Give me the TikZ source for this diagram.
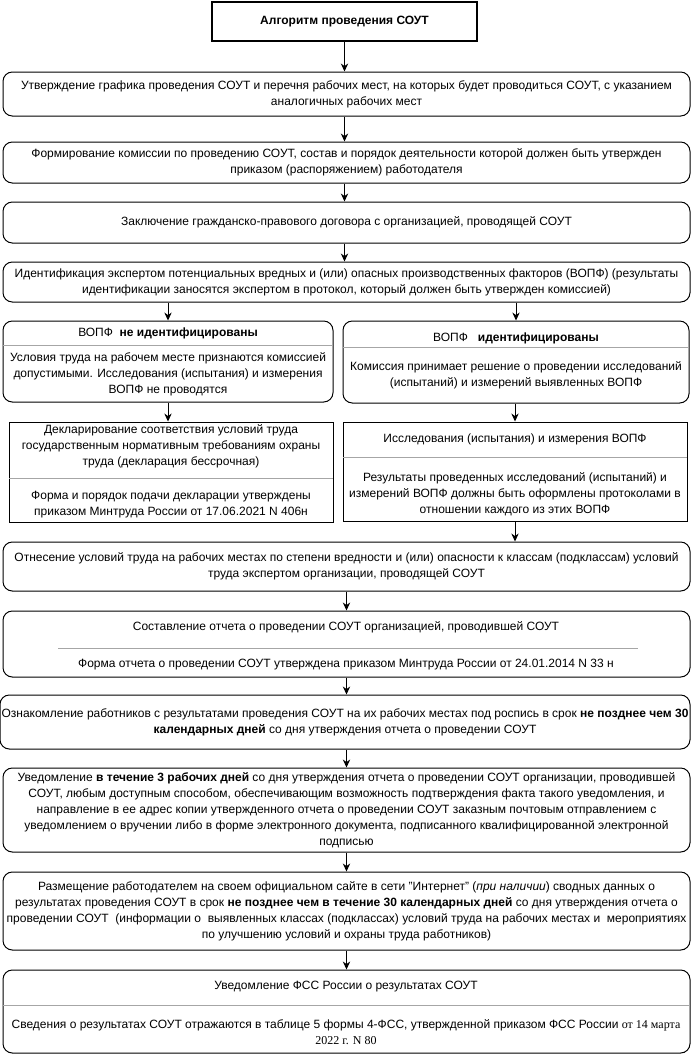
\documentclass[tikz,border=0pt]{standalone}
\usepackage{fontspec}
\setmainfont{Liberation Sans}
\newfontfamily\tnr{Liberation Serif}
\usetikzlibrary{fit,arrows.meta}
\begin{document}
\begin{tikzpicture}[x=0.75pt,y=-0.75pt,
  every node/.style={font=\fontsize{9}{12}\selectfont},
  rbox/.style={draw=black,line width=0.75pt,rounded corners=7pt,inner sep=0pt},
  sbox/.style={draw=black,line width=0.75pt,inner sep=0pt},
  tbox/.style={draw=black,line width=1.6pt,inner sep=0pt},
  txt/.style={align=center,inner sep=0pt},
  sepline/.style={draw=black!35,line width=0.75pt},
  arr/.style={draw=black,line width=0.75pt,-{Stealth[length=6pt,width=5.5pt]}}
]
\useasboundingbox (0,0) rectangle (693,1058);
% title
\node[tbox,fit={(212,2) (477,41)}] (title) {};
\node[txt,font=\fontsize{9}{12}\selectfont\bfseries] (titlet) at (title.center) {Алгоритм проведения СОУТ};
% box1
\node[rbox,fit={(3,72) (690,116)}] (b1) {};
\node[txt] (b1t) at (b1.center) {Утверждение графика проведения СОУТ и перечня рабочих мест, на которых будет проводиться СОУТ, с указанием\\аналогичных рабочих мест};
% box2
\node[rbox,fit={(3,142) (690,183)}] (b2) {};
\node[txt] (b2t) at (b2.center) {Формирование комиссии по проведению СОУТ, состав и порядок деятельности которой должен быть утвержден\\приказом (распоряжением) работодателя};
% box3
\node[rbox,fit={(3,202) (690,243)}] (b3) {};
\node[txt] (b3t) at (b3.center) {Заключение гражданско-правового договора с организацией, проводящей СОУТ};
% box4
\node[rbox,fit={(3,262) (690,302)}] (b4) {};
\node[txt] (b4t) at (b4.center) {Идентификация экспертом потенциальных вредных и (или) опасных производственных факторов (ВОПФ) (результаты\\идентификации заносятся экспертом в протокол, который должен быть утвержден комиссией)};
% box A
\node[rbox,fit={(3,321) (333,402)}] (bA) {};
\draw[sepline] (3,345) -- (333,345);
\node[txt] (bAh) at (168,333) {ВОПФ\ \ \textbf{не идентифицированы}};
\node[txt] (bAb) at (168,374) {Условия труда на рабочем месте признаются комиссией\\допустимыми. Исследования (испытания) и измерения\\ВОПФ не проводятся};
% box B
\node[rbox,fit={(343,321) (689,403)}] (bB) {};
\draw[sepline] (343,347) -- (689,347);
\node[txt] (bBh) at (516,338) {ВОПФ\ \ \ \textbf{идентифицированы}};
\node[txt] (bBb) at (516,375) {Комиссия принимает решение о проведении исследований\\(испытаний) и измерений выявленных ВОПФ};
% box C
\node[sbox,fit={(9,422) (333,522)}] (bC) {};
\draw[sepline] (9,478) -- (333,478);
\node[txt] (bCh) at (171,446) {Декларирование соответствия условий труда\\государственным нормативным требованиям охраны\\труда (декларация бессрочная)};
\node[txt] (bCb) at (171,505) {Форма и порядок подачи декларации утверждены\\приказом Минтруда России от 17.06.2021 N 406н};
% box D
\node[sbox,fit={(343,422) (687,521)}] (bD) {};
\draw[sepline] (343,457) -- (687,457);
\node[txt] (bDh) at (515,439) {Исследования (испытания) и измерения ВОПФ};
\node[txt] (bDb) at (515,494) {Результаты проведенных исследований (испытаний) и\\измерений ВОПФ должны быть оформлены протоколами в\\отношении каждого из этих ВОПФ};
% box5
\node[rbox,fit={(3,542) (690,591)}] (b5) {};
\node[txt] (b5t) at (b5.center) {Отнесение условий труда на рабочих местах по степени вредности и (или) опасности к классам (подклассам) условий\\труда экспертом организации, проводящей СОУТ};
% box6
\node[rbox,fit={(3,611) (690,677)}] (b6) {};
\draw[sepline] (58,648) -- (638,648);
\node[txt] (b6h) at (346,627) {Составление отчета о проведении СОУТ организацией, проводившей СОУТ};
\node[txt] (b6b) at (346,665) {Форма отчета о проведении СОУТ утверждена приказом Минтруда России от 24.01.2014 N 33 н};
% box7
\node[rbox,fit={(0,695) (690,749)}] (b7) {};
\node[txt] (b7t) at (b7.center) {Ознакомление работников с результатами проведения СОУТ на их рабочих местах под роспись в срок \textbf{не позднее чем 30}\\\textbf{календарных дней} со дня утверждения отчета о проведении СОУТ};
% box8
\node[rbox,fit={(3,768) (690,852)}] (b8) {};
\node[txt] (b8t) at (b8.center) {Уведомление \textbf{в течение 3 рабочих дней} со дня утверждения отчета о проведении СОУТ организации, проводившей\\СОУТ, любым доступным способом, обеспечивающим возможность подтверждения факта такого уведомления, и\\направление в ее адрес копии утвержденного отчета о проведении СОУТ заказным почтовым отправлением с\\уведомлением о вручении либо в форме электронного документа, подписанного квалифицированной электронной\\подписью};
% box9
\node[rbox,fit={(3,872) (690,950)}] (b9) {};
\node[txt] (b9t) at (b9.center) {Размещение работодателем на своем официальном сайте в сети "Интернет" (\textit{при наличии}) сводных данных о\\результатах проведения СОУТ в срок \textbf{не позднее чем в течение 30 календарных дней} со дня утверждения отчета о\\проведении СОУТ\ \ (информации о\ \ выявленных классах (подклассах) условий труда на рабочих местах и\ \ мероприятиях\\по улучшению условий и охраны труда работников)};
% box10
\node[rbox,fit={(3,970) (690,1053)}] (b10) {};
\draw[sepline] (3,1005) -- (690,1005);
\node[txt] (b10h) at (346,987) {Уведомление ФСС России о результатах СОУТ};
\node[txt] (b10b) at (346,1032) {Сведения о результатах СОУТ отражаются в таблице 5 формы 4-ФСС, утвержденной приказом ФСС России {\tnr от 14 марта}\\{\tnr 2022 г. N 80}};
% arrows
\draw[arr] (title.south) -- (title.south |- b1.north);
\draw[arr] (b1.south -| title.south) -- (b2.north -| title.south);
\draw[arr] (b2.south -| title.south) -- (b3.north -| title.south);
\draw[arr] (b3.south -| title.south) -- (b4.north -| title.south);
\draw[arr] (bAh |- b4.south) -- (bAh |- bA.north);
\draw[arr] (bBh |- b4.south) -- (bBh |- bB.north);
\draw[arr] (bAh |- bA.south) -- (bAh |- bC.north);
\draw[arr] (bDh |- bB.south) -- (bDh |- bD.north);
\draw[arr] (bD.south) -- (bD.south |- b5.north);
\draw[arr] (b5.south) -- (b6.north);
\draw[arr] (b6.south) -- (b6.south |- b7.north);
\draw[arr] (b7.south -| b6.south) -- (b8.north);
\draw[arr] (b8.south) -- (b9.north);
\draw[arr] (b9.south) -- (b10.north);
\end{tikzpicture}
\end{document}
